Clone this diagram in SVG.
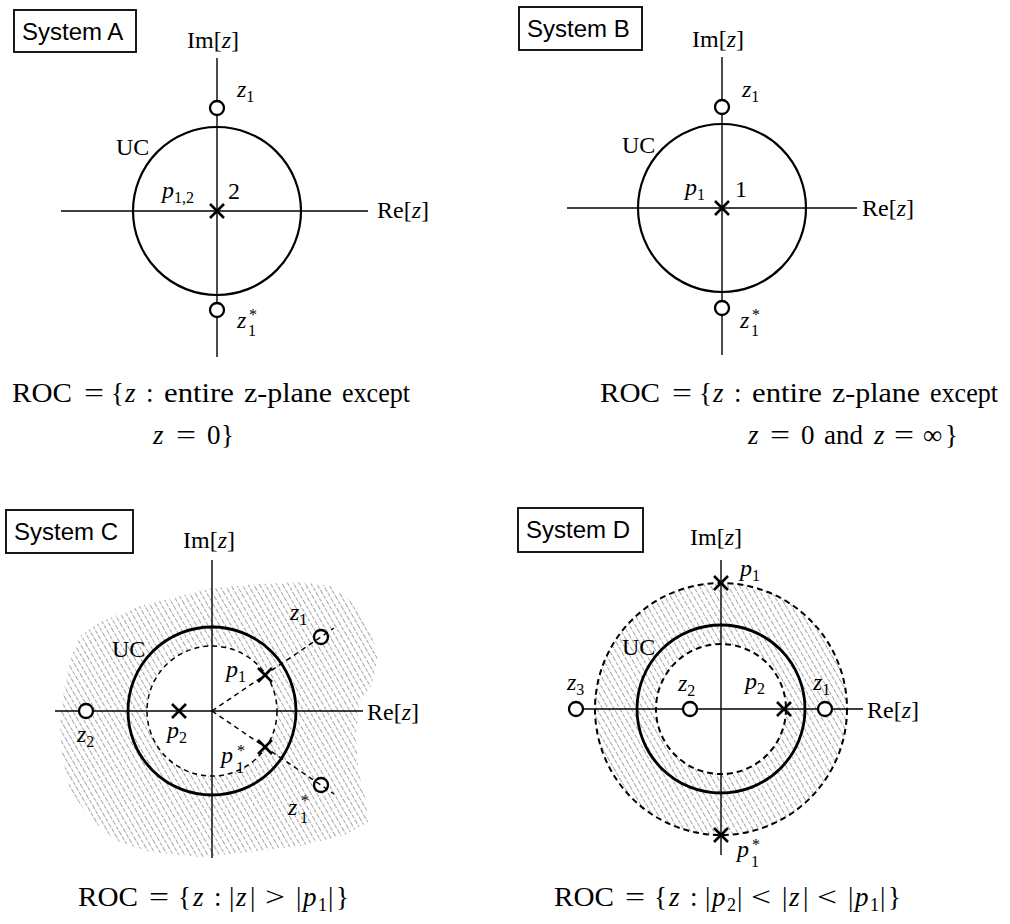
<svg xmlns="http://www.w3.org/2000/svg" width="1010" height="924" viewBox="0 0 1010 924">
<defs>
<style>
.ax{stroke:#000;stroke-width:1.4;fill:none}
.uc{stroke:#000;stroke-width:2.2;fill:none}
.ucb{stroke:#000;stroke-width:2.8;fill:none}
.dc{stroke:#000;stroke-width:1.5;fill:none;stroke-dasharray:5 4}
.dd{stroke:#000;stroke-width:2;fill:none;stroke-dasharray:6 4}
.zero{stroke:#000;stroke-width:2.3;fill:#fff}
.pole{stroke:#000;stroke-width:2.6;fill:none}
.box{fill:#fff;stroke:#000;stroke-width:1.8}
.sys{font-family:"Liberation Sans",Arial,sans-serif;font-size:24px;fill:#000}
.m{font-family:"Liberation Serif","Times New Roman",serif;font-size:24px;fill:#000}
.i{font-style:italic}
.s{font-size:16px}
.roc{font-family:"Liberation Serif","Times New Roman",serif;font-size:27px;fill:#000}
.rs{font-size:18px}
.hatch{fill:url(#hatch);stroke:none}
</style>
<pattern id="hatch" patternUnits="userSpaceOnUse" width="5" height="12" patternTransform="rotate(-30)">
<line x1="2.5" y1="0" x2="2.5" y2="12" stroke="#9a9a9a" stroke-width="0.9" stroke-dasharray="4 1.5"/>
</pattern>
<path id="xm" d="M-7,-7L7,7M-7,7L7,-7"/>
</defs>

<!-- ===== System A ===== -->
<g id="panelA">
<g id="A-label"><rect class="box" x="14" y="10" width="122" height="42"/><text class="sys" x="22" y="40">System A</text></g>
<g id="A-axes">
<line class="ax" x1="217" y1="58" x2="217" y2="357"/>
<line class="ax" x1="61" y1="211" x2="368" y2="211"/>
<text class="m" x="187" y="48">Im[<tspan class="i">z</tspan>]</text>
<text class="m" x="377" y="218">Re[<tspan class="i">z</tspan>]</text>
</g>
<g id="A-uc"><circle class="uc" cx="217" cy="211" r="84"/><text class="m" x="116" y="155">UC</text></g>
<g id="A-z1"><circle class="zero" cx="217" cy="108" r="7"/><text class="m" x="237" y="97"><tspan class="i">z</tspan><tspan class="s" dy="5">1</tspan></text></g>
<g id="A-z1c"><circle class="zero" cx="217" cy="310" r="7"/><text class="m"><tspan class="i" x="237" y="328">z</tspan><tspan class="s" x="249" y="320">*</tspan><tspan class="s" x="248" y="336">1</tspan></text></g>
<g id="A-p12"><use href="#xm" class="pole" x="217" y="211"/><text class="m" x="162" y="198"><tspan class="i">p</tspan><tspan class="s" dy="5">1,2</tspan></text><text class="m" x="228" y="199">2</text></g>
</g>

<!-- ===== System B ===== -->
<g id="panelB">
<g id="B-label"><rect class="box" x="519" y="7" width="123" height="43"/><text class="sys" x="527" y="37">System B</text></g>
<g id="B-axes">
<line class="ax" x1="722" y1="57" x2="722" y2="355"/>
<line class="ax" x1="567" y1="208" x2="857" y2="208"/>
<text class="m" x="692" y="47">Im[<tspan class="i">z</tspan>]</text>
<text class="m" x="862" y="216">Re[<tspan class="i">z</tspan>]</text>
</g>
<g id="B-uc"><circle class="uc" cx="722" cy="208" r="84"/><text class="m" x="622" y="153">UC</text></g>
<g id="B-z1"><circle class="zero" cx="722" cy="107" r="7"/><text class="m" x="742" y="97"><tspan class="i">z</tspan><tspan class="s" dy="5">1</tspan></text></g>
<g id="B-z1c"><circle class="zero" cx="722" cy="308" r="7"/><text class="m"><tspan class="i" x="740" y="328">z</tspan><tspan class="s" x="752" y="320">*</tspan><tspan class="s" x="751" y="336">1</tspan></text></g>
<g id="B-p1"><use href="#xm" class="pole" x="722" y="208"/><text class="m" x="685" y="195"><tspan class="i">p</tspan><tspan class="s" dy="5">1</tspan></text><text class="m" x="735" y="197">1</text></g>
</g>

<!-- ROC text A / B -->
<g id="A-roc">
<text class="roc" y="402"><tspan x="12" textLength="60" lengthAdjust="spacingAndGlyphs">ROC</tspan><tspan x="84" textLength="20" lengthAdjust="spacingAndGlyphs">=</tspan><tspan x="111">{</tspan><tspan x="125" class="i">z</tspan><tspan x="146">:</tspan><tspan x="164" textLength="70" lengthAdjust="spacingAndGlyphs">entire</tspan><tspan x="244" textLength="88" lengthAdjust="spacingAndGlyphs">z-plane</tspan><tspan x="342" textLength="68" lengthAdjust="spacingAndGlyphs">except</tspan></text>
<text class="roc" y="444"><tspan x="153" class="i">z</tspan><tspan x="176" textLength="20" lengthAdjust="spacingAndGlyphs">=</tspan><tspan x="207">0</tspan><tspan x="221">}</tspan></text>
</g>
<g id="B-roc">
<text class="roc" y="402"><tspan x="600" textLength="60" lengthAdjust="spacingAndGlyphs">ROC</tspan><tspan x="672" textLength="20" lengthAdjust="spacingAndGlyphs">=</tspan><tspan x="699">{</tspan><tspan x="713" class="i">z</tspan><tspan x="734">:</tspan><tspan x="752" textLength="70" lengthAdjust="spacingAndGlyphs">entire</tspan><tspan x="832" textLength="88" lengthAdjust="spacingAndGlyphs">z-plane</tspan><tspan x="930" textLength="68" lengthAdjust="spacingAndGlyphs">except</tspan></text>
<text class="roc" y="444"><tspan x="748" class="i">z</tspan><tspan x="770" textLength="20" lengthAdjust="spacingAndGlyphs">=</tspan><tspan x="801">0</tspan><tspan x="824">and</tspan><tspan x="874" class="i">z</tspan><tspan x="894" textLength="20" lengthAdjust="spacingAndGlyphs">=</tspan><tspan x="923">∞</tspan><tspan x="945">}</tspan></text>
</g>

<!-- ===== System C ===== -->
<g id="panelC">
<g id="C-roc-region"><path class="hatch" fill-rule="evenodd" d="M62,700 L70,660 L80,636 L100,622 L140,606 L180,596 L213,588 L260,584 L300,582 L330,586 L350,600 L368,625 L378,655 L372,685 L360,700 L356,730 L358,770 L366,800 L368,822 L345,835 L300,846 L250,852 L200,857 L150,852 L115,840 L90,818 L70,790 L62,755 L60,725 Z M277,711 A65,65 0 1 0 147,711 A65,65 0 1 0 277,711 Z"/></g>
<g id="C-label"><rect class="box" x="6" y="510" width="127" height="43"/><text class="sys" x="14" y="540">System C</text></g>
<g id="C-axes">
<line class="ax" x1="212" y1="560" x2="212" y2="858"/>
<line class="ax" x1="55" y1="711" x2="363" y2="711"/>
<text class="m" x="183" y="548">Im[<tspan class="i">z</tspan>]</text>
<text class="m" x="367" y="720">Re[<tspan class="i">z</tspan>]</text>
</g>
<g id="C-uc"><circle class="ucb" cx="212" cy="711" r="84"/><text class="m" x="112" y="657">UC</text></g>
<g id="C-pcircle"><circle class="dc" cx="212" cy="711" r="65"/></g>
<g id="C-p1"><use href="#xm" class="pole" x="265" y="675"/><text class="m" x="226" y="677"><tspan class="i">p</tspan><tspan class="s" dy="5">1</tspan></text></g>
<g id="C-p1c"><use href="#xm" class="pole" x="265" y="747"/><text class="m"><tspan class="i" x="221" y="763">p</tspan><tspan class="s" x="237" y="756">*</tspan><tspan class="s" x="236" y="773">1</tspan></text></g>
<g id="C-p2"><use href="#xm" class="pole" x="179" y="711"/><text class="m" x="167" y="738"><tspan class="i">p</tspan><tspan class="s" dy="5">2</tspan></text></g>
<g id="C-z1"><circle class="zero" cx="321" cy="637" r="7"/><text class="m" x="290" y="620"><tspan class="i">z</tspan><tspan class="s" dy="5">1</tspan></text></g>
<g id="C-z1c"><circle class="zero" cx="321" cy="785" r="7"/><text class="m"><tspan class="i" x="288" y="815">z</tspan><tspan class="s" x="301" y="806">*</tspan><tspan class="s" x="300" y="823">1</tspan></text></g>
<g id="C-z2"><circle class="zero" cx="86" cy="711" r="7"/><text class="m" x="77" y="742"><tspan class="i">z</tspan><tspan class="s" dy="5">2</tspan></text></g>
<g id="C-roc"><text class="roc" y="906"><tspan x="78" textLength="60" lengthAdjust="spacingAndGlyphs">ROC</tspan><tspan x="149" textLength="20" lengthAdjust="spacingAndGlyphs">=</tspan><tspan x="178">{</tspan><tspan x="193" class="i">z</tspan><tspan x="214">:</tspan><tspan x="229">|</tspan><tspan x="236" class="i">z</tspan><tspan x="250">|</tspan><tspan x="265" textLength="20" lengthAdjust="spacingAndGlyphs">&gt;</tspan><tspan x="296">|</tspan><tspan x="303" class="i">p</tspan><tspan x="318" class="rs" dy="5">1</tspan><tspan x="328" dy="-5">|</tspan><tspan x="336">}</tspan></text></g>
</g>

<!-- ===== System D ===== -->
<g id="panelD">
<g id="D-roc-region"><path class="hatch" fill-rule="evenodd" d="M847,709 A126,126 0 1 0 595,709 A126,126 0 1 0 847,709 Z M786,709 A65,65 0 1 0 656,709 A65,65 0 1 0 786,709 Z"/></g>
<g id="D-label"><rect class="box" x="518" y="508" width="125" height="44"/><text class="sys" x="526" y="538">System D</text></g>
<g id="D-axes">
<line class="ax" x1="721" y1="560" x2="721" y2="855"/>
<line class="ax" x1="568" y1="709" x2="863" y2="709"/>
<text class="m" x="690" y="545">Im[<tspan class="i">z</tspan>]</text>
<text class="m" x="867" y="718">Re[<tspan class="i">z</tspan>]</text>
</g>
<g id="D-uc"><circle class="ucb" cx="721" cy="709" r="84"/><text class="m" x="622" y="655">UC</text></g>
<g id="D-p1circle"><circle class="dd" cx="721" cy="709" r="126"/></g>
<g id="D-p2circle"><circle class="dd" cx="721" cy="709" r="65"/></g>
<g id="D-p1"><use href="#xm" class="pole" x="721" y="583"/><text class="m" x="740" y="576"><tspan class="i">p</tspan><tspan class="s" dy="5">1</tspan></text></g>
<g id="D-p1c"><use href="#xm" class="pole" x="721" y="835"/><text class="m"><tspan class="i" x="737" y="857">p</tspan><tspan class="s" x="752" y="850">*</tspan><tspan class="s" x="751" y="867">1</tspan></text></g>
<g id="D-p2"><use href="#xm" class="pole" x="784" y="709"/><text class="m" x="745" y="689"><tspan class="i">p</tspan><tspan class="s" dy="5">2</tspan></text></g>
<g id="D-z1"><circle class="zero" cx="825" cy="709" r="7"/><text class="m" x="813" y="690"><tspan class="i">z</tspan><tspan class="s" dy="5">1</tspan></text></g>
<g id="D-z2"><circle class="zero" cx="690" cy="709" r="7"/><text class="m" x="678" y="691"><tspan class="i">z</tspan><tspan class="s" dy="5">2</tspan></text></g>
<g id="D-z3"><circle class="zero" cx="576" cy="709" r="7"/><text class="m" x="567" y="690"><tspan class="i">z</tspan><tspan class="s" dy="5">3</tspan></text></g>
<g id="D-roc"><text class="roc" y="906"><tspan x="554" textLength="60" lengthAdjust="spacingAndGlyphs">ROC</tspan><tspan x="625" textLength="20" lengthAdjust="spacingAndGlyphs">=</tspan><tspan x="654">{</tspan><tspan x="669" class="i">z</tspan><tspan x="690">:</tspan><tspan x="705">|</tspan><tspan x="712" class="i">p</tspan><tspan x="727" class="rs" dy="5">2</tspan><tspan x="737" dy="-5">|</tspan><tspan x="751" textLength="20" lengthAdjust="spacingAndGlyphs">&lt;</tspan><tspan x="782">|</tspan><tspan x="789" class="i">z</tspan><tspan x="803">|</tspan><tspan x="817" textLength="20" lengthAdjust="spacingAndGlyphs">&lt;</tspan><tspan x="848">|</tspan><tspan x="855" class="i">p</tspan><tspan x="870" class="rs" dy="5">1</tspan><tspan x="880" dy="-5">|</tspan><tspan x="888">}</tspan></text></g>
</g>

<g id="connectors">
<line class="dc" x1="212" y1="711" x2="334" y2="628"/>
<line class="dc" x1="212" y1="711" x2="334" y2="794"/>
</g>
</svg>
